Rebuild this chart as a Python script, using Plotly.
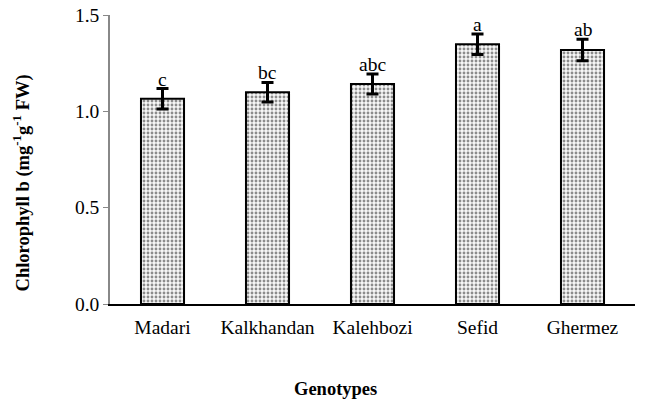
import plotly.graph_objects as go

genotypes = ["Madari", "Kalkhandan", "Kalehbozi", "Sefid", "Ghermez"]
chl_b = [1.065, 1.099, 1.142, 1.348, 1.318]
err = [0.053, 0.051, 0.052, 0.053, 0.056]
letters = ["c", "bc", "abc", "a", "ab"]

FONT = "Liberation Serif, Times New Roman, serif"
FS = 19.5

fig = go.Figure()
fig.add_trace(go.Bar(
    x=genotypes, y=chl_b,
    marker=dict(
        color="#f2f2f2",
        line=dict(color="black", width=2),
        pattern=dict(shape=".", fgcolor="#222222", bgcolor="#f7f7f7", size=4, solidity=0.4),
    ),
    error_y=dict(type="data", array=err, visible=True, color="black", thickness=3, width=6),
    width=0.41,
))

for g, v, e, t in zip(genotypes, chl_b, err, letters):
    fig.add_annotation(x=g, y=v + e, text=t, showarrow=False, yanchor="bottom", yshift=-3,
                       font=dict(family=FONT, size=FS, color="black"))

# axis titles
fig.add_annotation(xref="paper", yref="paper", x=0.43, y=-0.295, text="<b>Genotypes</b>",
                   showarrow=False, xanchor="center", yanchor="middle",
                   font=dict(family=FONT, size=18.5, color="black"))
fig.add_annotation(xref="paper", yref="paper", x=-0.168, y=0.42,
                   text="<b>Chlorophyll b (mg<sup>-1</sup>g<sup>-1</sup> FW)</b>",
                   showarrow=False, textangle=-90, xanchor="center", yanchor="middle",
                   font=dict(family=FONT, size=18.5, color="black"))

fig.update_layout(
    width=645, height=405,
    margin=dict(l=110, r=10, t=15, b=101),
    paper_bgcolor="white", plot_bgcolor="white",
    showlegend=False,
    font=dict(family=FONT, size=FS, color="black"),
    xaxis=dict(
        showline=True, linecolor="black", linewidth=1.5,
        ticks="", tickfont=dict(family=FONT, size=FS),
        showgrid=False, automargin=False, ticklabelstandoff=5,
    ),
    yaxis=dict(
        range=[0, 1.5], dtick=0.5, tickformat=".1f",
        showline=True, linecolor="#888888", linewidth=1.5,
        ticks="outside", ticklen=5, tickcolor="#888888",
        showgrid=False, zeroline=False, automargin=False,
        tickfont=dict(family=FONT, size=FS),
    ),
)

fig.write_html("out.html", config={"displayModeBar": False},
               post_script="document.body.style.margin='0';document.body.style.overflow='hidden';")
